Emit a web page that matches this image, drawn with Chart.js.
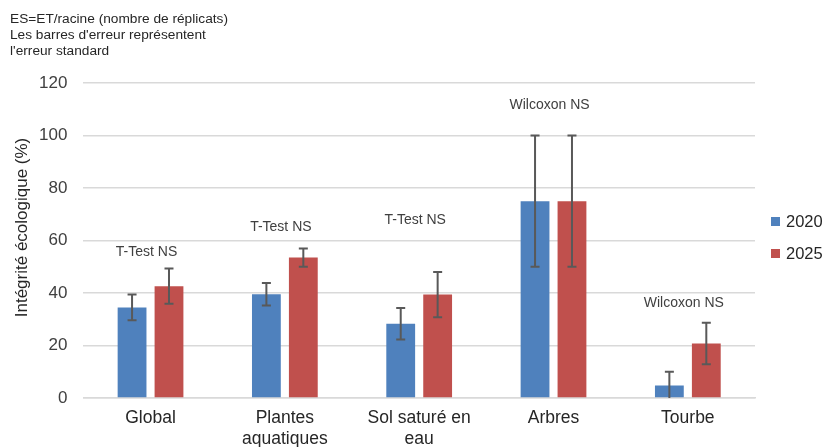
<!DOCTYPE html>
<html><head><meta charset="utf-8">
<script src="https://cdn.jsdelivr.net/npm/chart.js@4.4.0/dist/chart.umd.min.js"></script>
<style>html,body{margin:0;padding:0;background:#fff;overflow:hidden}#wrap{position:relative;width:825px;height:447px;overflow:hidden}</style>
</head><body><div id="wrap"><canvas id="c" width="825" height="460"></canvas></div>
<script>
const categories = ["Global", ["Plantes", "aquatiques"], ["Sol saturé en", "eau"], "Arbres", "Tourbe"];
const seriesNames = ["2020", "2025"];
const values2020 = [34.5, 39.5, 28.3, 75, 4.8];
const values2025 = [42.6, 53.5, 39.4, 75, 20.8];
const err2020 = [4.9, 4.3, 6.0, 25, 5.2];
const err2025 = [6.7, 3.5, 8.6, 25, 7.9];
const testLabels = ["T-Test NS", "T-Test NS", "T-Test NS", "Wilcoxon NS", "Wilcoxon NS"];
const testLabelY = [55.4, 65.1, 67.6, 111.7, 36];
const yTicks = [0, 20, 40, 60, 80, 100, 120];
const yTitle = "Intégrité écologique (%)";
const notes = ["ES=ET/racine (nombre de réplicats)", "Les barres d'erreur représentent", "l'erreur standard"];

const FONT = "'Liberation Sans', Arial, sans-serif";
const errPlugin = {
  id: 'errbars',
  afterDatasetsDraw(chart) {
    const ctx = chart.ctx, y = chart.scales.y;
    const errs = [err2020, err2025];
    ctx.save();
    ctx.strokeStyle = '#595959';
    ctx.lineWidth = 2;
    chart.data.datasets.forEach((ds, di) => {
      const meta = chart.getDatasetMeta(di);
      meta.data.forEach((bar, i) => {
        const v = ds.data[i], e = errs[di][i];
        const yt = y.getPixelForValue(v + e), yb = y.getPixelForValue(Math.max(0, v - e));
        const x = bar.x;
        ctx.beginPath();
        ctx.moveTo(x, yt); ctx.lineTo(x, yb);
        ctx.moveTo(x - 4.5, yt); ctx.lineTo(x + 4.5, yt);
        if (v - e > 0) { ctx.moveTo(x - 4.5, yb); ctx.lineTo(x + 4.5, yb); }
        ctx.stroke();
      });
    });
    ctx.fillStyle = '#404040';
    ctx.font = '14px ' + FONT;
    ctx.textAlign = 'center';
    ctx.textBaseline = 'middle';
    const xs = chart.scales.x;
    testLabels.forEach((t, i) => {
      ctx.fillText(t, xs.getPixelForValue(i) - 4, y.getPixelForValue(testLabelY[i]));
    });
    // y axis title
    ctx.save();
    ctx.translate(22, (chart.chartArea.top + chart.chartArea.bottom) / 2 - 13);
    ctx.rotate(-Math.PI / 2);
    ctx.fillStyle = '#262626';
    ctx.font = '17px ' + FONT;
    ctx.fillText(yTitle, 0, 0);
    ctx.restore();
    // notes
    ctx.textAlign = 'left';
    ctx.fillStyle = '#262626';
    ctx.font = '13.7px ' + FONT;
    notes.forEach((n, i) => ctx.fillText(n, 10, 19 + i * 16.2));
    // legend
    ctx.font = '16.5px ' + FONT;
    const lx = chart.chartArea.right + 16;
    const cy = (chart.chartArea.top + chart.chartArea.bottom) / 2;
    chart.data.datasets.forEach((ds, di) => {
      const yy = cy - 19 + di * 32;
      ctx.fillStyle = ds.backgroundColor;
      ctx.fillRect(lx, yy - 4.5, 9, 9);
      ctx.fillStyle = '#262626';
      ctx.fillText(ds.label, lx + 15, yy + 1);
    });
    ctx.restore();
  }
};

new Chart(document.getElementById('c'), {
  type: 'bar',
  data: {
    labels: categories,
    datasets: [
      { label: seriesNames[0], data: values2020, backgroundColor: '#4f81bd' },
      { label: seriesNames[1], data: values2025, backgroundColor: '#c0504d' }
    ]
  },
  options: {
    responsive: false,
    animation: false,
    layout: { padding: { top: 83, left: 23, right: 70, bottom: 0 } },
    datasets: { bar: { categoryPercentage: 0.55, barPercentage: 0.78 } },
    plugins: {
      legend: { display: false },
      tooltip: { enabled: false }
    },
    scales: {
      x: {
        grid: { display: false, drawTicks: false },
        border: { display: true, color: '#d9d9d9', width: 1.5 },
        ticks: { color: '#262626', padding: 10, font: { family: FONT, size: 17.5, lineHeight: 1.2 }, maxRotation: 0, autoSkip: false }
      },
      y: {
        min: 0, max: 120,
        afterBuildTicks(s) { s.ticks = yTicks.map(v => ({ value: v })); },
        grid: { color: '#d9d9d9', lineWidth: 1.5, drawTicks: false },
        border: { display: false },
        ticks: { color: '#404040', padding: 16, font: { family: FONT, size: 17 } },
        title: { display: false }
      }
    }
  },
  plugins: [errPlugin]
});
</script></body></html>
